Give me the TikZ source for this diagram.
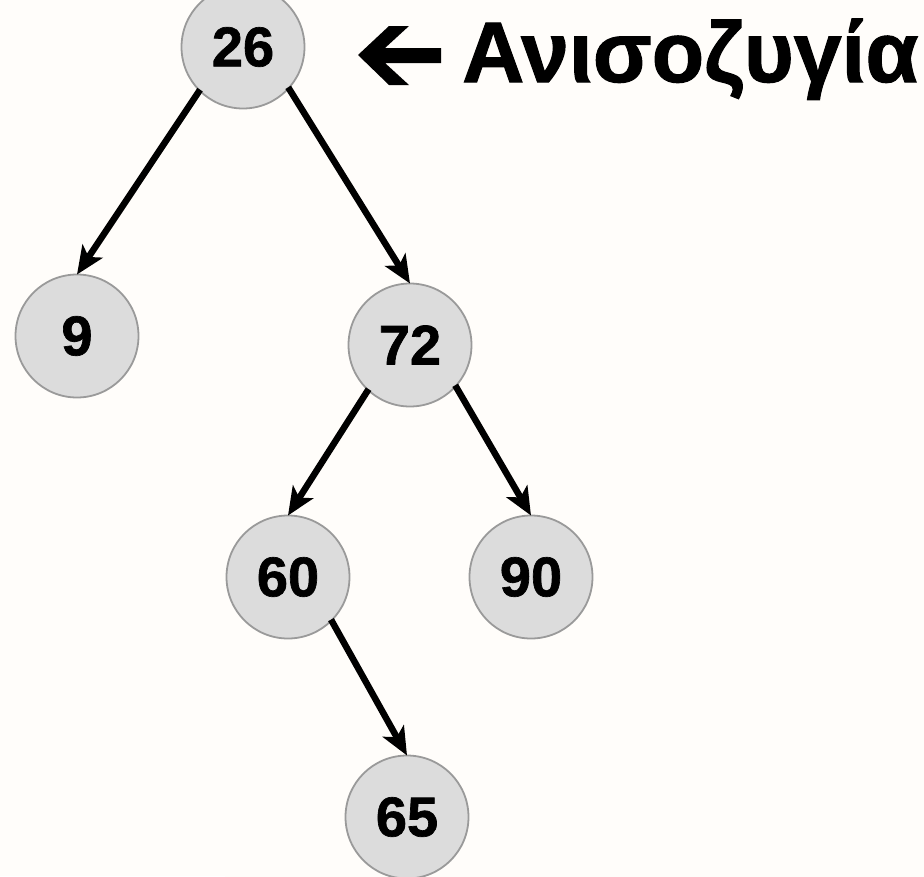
\documentclass[tikz,border=0pt]{standalone}
\usepackage{fontspec}
\setmainfont{Liberation Sans}
\newfontfamily\heavy{Liberation Sans Bold}[FakeBold=1.2]
\usetikzlibrary{arrows.meta}
\definecolor{bgc}{HTML}{FFFDFA}
\definecolor{glow}{HTML}{FDEFDA}
\definecolor{nodefill}{HTML}{DCDCDC}
\definecolor{nodeline}{HTML}{9A9A9A}
\pgfdeclareradialshading{ringglow}{\pgfpoint{0bp}{0bp}}{%
  color(0bp)=(bgc); color(33bp)=(bgc); color(40bp)=(glow);
  color(47bp)=(bgc); color(50bp)=(bgc)}
\tikzset{
  treenode/.style={circle, draw=nodeline, line width=1.8pt, fill=nodefill,
    minimum size=123pt, inner sep=0pt, outer sep=0pt,
    font=\fontsize{56}{60}\heavy},
  treeedge/.style={draw=black, line width=6.5pt,
    -{Stealth[length=28pt,width=24pt,inset=7pt]}, shorten <=-1pt}
}
\newcommand{\lowered}[1]{\raisebox{-5pt}{#1}}
\begin{document}
\begin{tikzpicture}[x=1pt,y=-1pt]
\useasboundingbox (0,0) rectangle (924,876);
\fill[bgc] (0,0) rectangle (924,876);
\begin{scope}
\clip (0,0) rectangle (924,876);
\shade[shading=ringglow] (707,1010) circle (500);
\end{scope}
\node[treenode] (n26) at (243,47) {\lowered{26}};
\node[treenode] (n9) at (77,336) {\lowered{9}};
\node[treenode] (n72) at (410,345) {\lowered{72}};
\node[treenode] (n60) at (288,577) {\lowered{60}};
\node[treenode] (n90) at (531,577) {\lowered{90}};
\node[treenode] (n65) at (407,817) {\lowered{65}};
\draw[treeedge] (n26.-135) -- (n9.north);
\draw[treeedge] (n26.-42) -- (n72.north);
\draw[treeedge] (n72.-133) -- (n60.north);
\draw[treeedge] (n72.-42) -- (n90.north);
\draw[treeedge] (n60.-45) -- (n65.north);
% block arrow glyph
\fill[black] (358,55) -- (389,26) -- (409,26) -- (385,48) -- (441,48)
  -- (441,63) -- (385,63) -- (409,85) -- (389,85) -- cycle;
\node[anchor=base west, inner sep=0pt, font=\fontsize{86}{90}\heavy] (lbl) at (462,82) {Ανισοζυγία};
\end{tikzpicture}
\end{document}
